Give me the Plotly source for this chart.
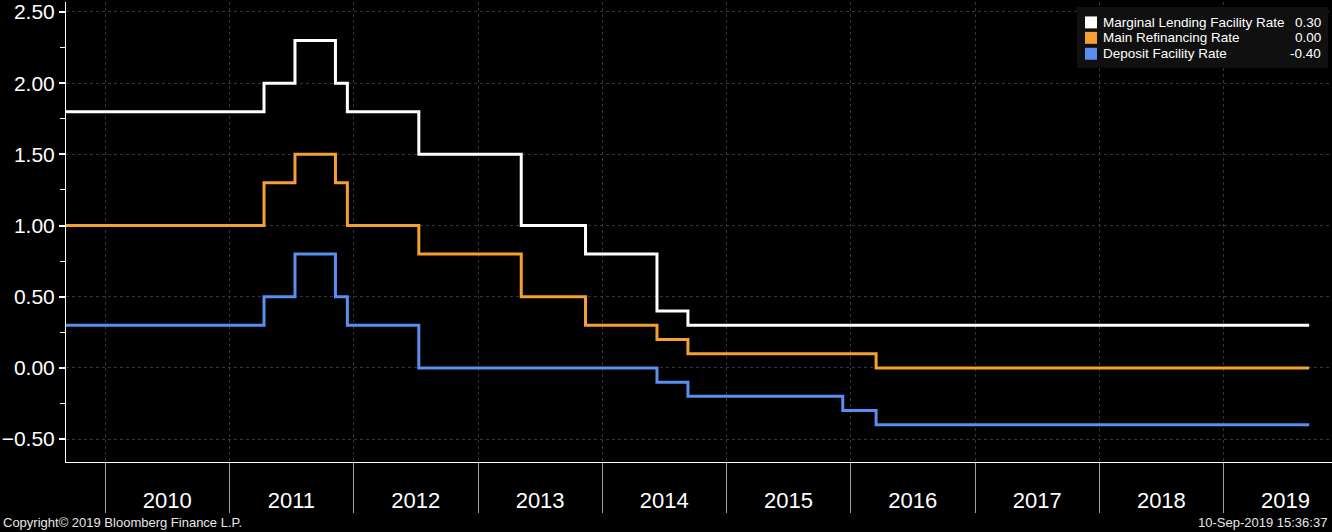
import plotly.graph_objects as go

# ECB policy rates (rounded to 1 decimal as plotted), value from each date on
dates = ["2009-09-08", "2011-04-13", "2011-07-13", "2011-11-09", "2011-12-14",
         "2012-07-11", "2013-05-08", "2013-11-13", "2014-06-11", "2014-09-10",
         "2015-12-09", "2016-03-16", "2019-09-10"]
mlf_rate = [1.80, 2.00, 2.30, 2.00, 1.80, 1.50, 1.00, 0.80, 0.40, 0.30, 0.30, 0.30, 0.30]
mro_rate = [1.00, 1.30, 1.50, 1.30, 1.00, 0.80, 0.50, 0.30, 0.20, 0.10, 0.10, 0.00, 0.00]
dep_rate = [0.30, 0.50, 0.80, 0.50, 0.30, 0.00, 0.00, 0.00, -0.10, -0.20, -0.30, -0.40, -0.40]

series = [
    ("Marginal Lending Facility Rate", mlf_rate, "#ffffff"),
    ("Main Refinancing Rate", mro_rate, "#f5a033"),
    ("Deposit Facility Rate", dep_rate, "#5a8ff0"),
]

W, H = 1332, 532
L, R, T, B = 66, 0, 0, 70


def px_x(x):
    return (x - L) / (W - L - R)


def px_y(y):
    return 1 - (y - T) / (H - T - B)


fig = go.Figure()
for name, vals, col in series:
    fig.add_trace(go.Scatter(x=dates, y=vals, name=name, mode="lines",
                             line=dict(color=col, width=3, shape="hv")))

# legend box drawn by hand (values right aligned like the terminal)
shapes = [dict(type="rect", xref="paper", yref="paper",
               x0=px_x(1077), x1=px_x(1328), y0=px_y(66), y1=px_y(5),
               fillcolor="#101010", line=dict(width=0), layer="above")]
annotations = []
rows = [20.5, 36, 52]
for (name, vals, col), ry in zip(series, rows):
    shapes.append(dict(type="rect", xref="paper", yref="paper",
                       x0=px_x(1085), x1=px_x(1097), y0=px_y(ry + 6), y1=px_y(ry - 6),
                       fillcolor=col, line=dict(width=0), layer="above"))
    annotations.append(dict(text=name, xref="paper", yref="paper", x=px_x(1101), y=px_y(ry),
                            xanchor="left", yanchor="middle", showarrow=False,
                            font=dict(size=13.5, color="white")))
    annotations.append(dict(text=f"{vals[-1]:.2f}", xref="paper", yref="paper", x=px_x(1323), y=px_y(ry),
                            xanchor="right", yanchor="middle", showarrow=False,
                            font=dict(size=13.5, color="white")))

annotations.append(dict(text="Copyright© 2019 Bloomberg Finance L.P.", xref="paper", yref="paper",
                        x=px_x(1), y=px_y(523), xanchor="left", yanchor="middle", showarrow=False,
                        font=dict(size=13, color="#e6e6e6")))
annotations.append(dict(text="10-Sep-2019 15:36:37", xref="paper", yref="paper",
                        x=px_x(1329), y=px_y(523), xanchor="right", yanchor="middle", showarrow=False,
                        font=dict(size=13, color="#e6e6e6")))

fig.update_layout(
    width=W, height=H,
    margin=dict(l=L, r=R, t=T, b=B),
    paper_bgcolor="black", plot_bgcolor="black",
    font=dict(family="Liberation Sans, Arial, sans-serif", color="white"),
    showlegend=False,
    shapes=shapes, annotations=annotations,
)

fig.update_xaxes(
    type="date", range=["2009-09-08", "2019-11-16"],
    tick0="2010-01-01", dtick="M12", tickformat="%Y", ticklabelmode="period",
    ticks="outside", ticklen=50, tickwidth=1, tickcolor="#a0a0a0",
    ticklabelstandoff=-31, ticklabeloverflow="allow",
    tickfont=dict(size=22, color="white"),
    showline=True, linecolor="white", linewidth=1,
    showgrid=True, gridcolor="#353535", griddash="dot", gridwidth=1,
    zeroline=False,
)
fig.update_yaxes(
    range=[-0.661, 2.57], tick0=0, dtick=0.5, tickformat=".2f",
    ticks="outside", ticklen=6, tickwidth=2, tickcolor="white",
    ticklabeloverflow="allow",
    minor=dict(dtick=0.25, ticks="outside", ticklen=5, tickwidth=1, tickcolor="white", showgrid=False),
    tickfont=dict(size=21, color="white"),
    showline=True, linecolor="white", linewidth=1,
    showgrid=True, gridcolor="#353535", griddash="dot", gridwidth=1,
    zeroline=False,
)

fig.write_html("out.html", config={"displayModeBar": False},
               post_script="document.body.style.margin='0';")
